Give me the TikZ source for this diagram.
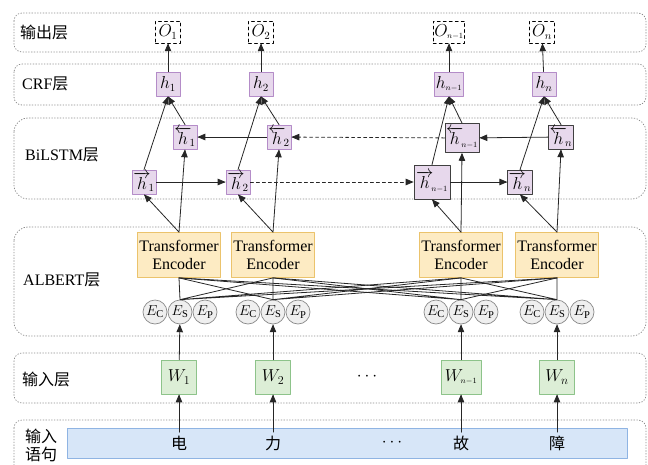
\documentclass[tikz,border=0pt]{standalone}
\usepackage{fontspec}
\setmainfont{Liberation Serif}
\newfontfamily\cjk{Noto Sans CJK SC}
\usetikzlibrary{arrows}
\definecolor{layerline}{HTML}{8C8C8C}
\definecolor{hfill}{HTML}{E7D8EC}
\definecolor{hdraw}{HTML}{B48CC8}
\definecolor{encfill}{HTML}{FDEBC3}
\definecolor{encdraw}{HTML}{EBC36C}
\definecolor{efill}{HTML}{EFEFEF}
\definecolor{edraw}{HTML}{8A8A8A}
\definecolor{wfill}{HTML}{DCEED6}
\definecolor{wdraw}{HTML}{8DC38A}
\definecolor{sfill}{HTML}{D7E6F8}
\definecolor{sdraw}{HTML}{8FB4E3}

\begin{document}
\begin{tikzpicture}[line cap=round,line join=round,>=triangle 45,x=1pt,y=-1pt,
  font=\fontsize{16}{18}\selectfont,
  layer/.style={draw=layerline, dotted, line width=0.8pt, rounded corners=8pt},
  obox/.style={draw, dashed, line width=0.7pt, minimum width=25pt, minimum height=22pt, inner sep=1pt, font=\fontsize{16}{18}\selectfont},
  hbox/.style={draw=hdraw, fill=hfill, line width=0.8pt, minimum size=24pt, inner sep=1pt, font=\fontsize{16}{18}\selectfont},
  hdark/.style={hbox, draw=black!75},
  encbox/.style={draw=encdraw, fill=encfill, line width=0.8pt, minimum width=83pt, minimum height=45pt, inner sep=1pt, align=center},
  ebox/.style={circle, draw=edraw, fill=efill, line width=0.7pt, minimum size=24pt, inner sep=0pt, font=\fontsize{15}{17}\selectfont},
  wbox/.style={draw=wdraw, fill=wfill, line width=0.8pt, minimum width=35pt, minimum height=34pt, inner sep=1pt, font=\fontsize{17}{19}\selectfont},
  label/.style={anchor=west, inner sep=0pt},
  link/.style={black!85, line width=0.8pt}]
\clip (0,0) rectangle (648,464);

% layers
\draw [layer] (14,13) rectangle (646,52);
\draw [layer] (14,64) rectangle (646,105);
\draw [layer, rounded corners=14pt] (14,118) rectangle (646,199);
\draw [layer, rounded corners=14pt] (14,227) rectangle (646,336);
\draw [layer] (14,353) rectangle (646,403);
\draw [layer] (14,420) rectangle (646,480);

\node [label] (lout) at (20,32) {\cjk 输出层};
\node [label] (lcrf) at (22,84) {CRF{\cjk 层}};
\node [label] (llstm) at (25,155) {BiLSTM{\cjk 层}};
\node [label] (lalbert) at (23,280) {ALBERT{\cjk 层}};
\node [label] (lin) at (22,379) {\cjk 输入层};
\node [label, align=left] (lsent) at (25,445) {\cjk 输入\\\cjk 语句};

% output and CRF
\node [obox] (o1) at (168,32) {$O_1$};
\node [obox] (o2) at (261,32) {$O_2$};
\node [obox] (on1) at (449,32) {$O_{\scriptscriptstyle n-1}$};
\node [obox] (on) at (542,32) {$O_n$};
\node [hbox] (h1) at (168,84) {$h_1$};
\node [hbox] (h2) at (261,84) {$h_2$};
\node [hbox] (hn1) at (449,84) {$h_{\scriptscriptstyle n-1}$};
\node [hbox] (hn) at (544,84) {$h_n$};

% BiLSTM
\node [hbox] (bh1) at (185,137) {$\overleftarrow{h}_{\!1}$};
\node [hbox] (bh2) at (279,137) {$\overleftarrow{h}_{\!2}$};
\node [hdark, minimum width=30pt, minimum height=29pt] (bhn1) at (462,138) {$\overleftarrow{h}_{\!\scriptscriptstyle n-1}$};
\node [hdark] (bhn) at (561,137) {$\overleftarrow{h}_{\!n}$};
\node [hbox] (fh1) at (144,182) {$\overrightarrow{h}_{\!1}$};
\node [hbox] (fh2) at (238,182) {$\overrightarrow{h}_{\!2}$};
\node [hdark, minimum width=36pt, minimum height=34pt] (fhn1) at (432,182) {$\overrightarrow{h}_{\!\scriptscriptstyle n-1}$};
\node [hdark] (fhn) at (520,182) {$\overrightarrow{h}_{\!n}$};

% ALBERT
\node [encbox] (enc1) at (179,255) {Transformer\\Encoder};
\node [encbox] (enc2) at (273,255) {Transformer\\Encoder};
\node [encbox] (encn1) at (461,255) {Transformer\\Encoder};
\node [encbox] (encn) at (557,255) {Transformer\\Encoder};
\node [ebox] (ec1) at (155,312) {$E_{\mathrm{C}}$};
\node [ebox] (es1) at (180,312) {$E_{\mathrm{S}}$};
\node [ebox] (ep1) at (205,312) {$E_{\mathrm{P}}$};
\node [ebox] (ec2) at (248,312) {$E_{\mathrm{C}}$};
\node [ebox] (es2) at (273,312) {$E_{\mathrm{S}}$};
\node [ebox] (ep2) at (298,312) {$E_{\mathrm{P}}$};
\node [ebox] (ecn1) at (436,312) {$E_{\mathrm{C}}$};
\node [ebox] (esn1) at (461,312) {$E_{\mathrm{S}}$};
\node [ebox] (epn1) at (486,312) {$E_{\mathrm{P}}$};
\node [ebox] (ecn) at (532,312) {$E_{\mathrm{C}}$};
\node [ebox] (esn) at (557,312) {$E_{\mathrm{S}}$};
\node [ebox] (epn) at (582,312) {$E_{\mathrm{P}}$};

% input
\node [wbox] (w1) at (179,377) {$W_1$};
\node [wbox] (w2) at (273,377) {$W_2$};
\node [wbox, minimum width=40pt] (wn1) at (461,377) {$W_{\scriptscriptstyle n-1}$};
\node [wbox] (wn) at (557,377) {$W_n$};
\node (wdots) at (367,377) {$\cdots$};
\node [draw=sdraw, fill=sfill, line width=0.8pt, minimum width=560pt, minimum height=30pt] (sent) at (347,443) {};
\node (c1) at (179,443) {\cjk 电};
\node (c2) at (273,443) {\cjk 力};
\node (cdots) at (392,443) {$\cdots$};
\node (cn1) at (461,443) {\cjk 故};
\node (cn) at (557,443) {\cjk 障};

\draw [->, link] (c1) -- (w1);
\draw [->, link] (c2) -- (w2);
\draw [->, link] (cn1) -- (wn1);
\draw [->, link] (cn) -- (wn);
\draw [->, link] (w1) -- (es1);
\draw [->, link] (w2) -- (es2);
\draw [->, link] (wn1) -- (esn1);
\draw [->, link] (wn) -- (esn);

\draw [link] (es1.north) -- (enc1.south) (es1.north) -- (enc2.south) (es1.north) -- (encn1.south) (es1.north) -- (encn.south);
\draw [link] (es2.north) -- (enc1.south) (es2.north) -- (enc2.south) (es2.north) -- (encn1.south) (es2.north) -- (encn.south);
\draw [link] (esn1.north) -- (enc1.south) (esn1.north) -- (enc2.south) (esn1.north) -- (encn1.south) (esn1.north) -- (encn.south);
\draw [link] (esn.north) -- (enc1.south) (esn.north) -- (enc2.south) (esn.north) -- (encn1.south) (esn.north) -- (encn.south);

\draw [->, link] (enc1.north) -- (fh1.south);
\draw [->, link] (enc1.north) -- (bh1.south);
\draw [->, link] (enc2.north) -- (fh2.south);
\draw [->, link] (enc2.north) -- (bh2.south);
\draw [->, link] (encn1.north) -- (fhn1.south);
\draw [->, link] (encn1.north) -- (bhn1.south);
\draw [->, link] (encn.north) -- (fhn.south);
\draw [->, link] (encn.north) -- (bhn.south);

\draw [->, link] (fh1) -- (fh2);
\draw [->, link, dashed] (fh2) -- (fhn1);
\draw [->, link] (fhn1) -- (fhn);
\draw [->, link] (bhn) -- (bhn1);
\draw [->, link, dashed] (bhn1) -- (bh2);
\draw [->, link] (bh2) -- (bh1);

\draw [->, link] (fh1.north) -- (h1.south);
\draw [->, link] (bh1.north) -- (h1.south);
\draw [->, link] (fh2.north) -- (h2.south);
\draw [->, link] (bh2.north) -- (h2.south);
\draw [->, link] (fhn1.north) -- (hn1.south);
\draw [->, link] (bhn1.north) -- (hn1.south);
\draw [->, link] (fhn.north) -- (hn.south);
\draw [->, link] (bhn.north) -- (hn.south);

\draw [->, link] (h1) -- (o1);
\draw [->, link] (h2) -- (o2);
\draw [->, link] (hn1) -- (on1);
\draw [->, link] (hn) -- (on);
\end{tikzpicture}
\end{document}
